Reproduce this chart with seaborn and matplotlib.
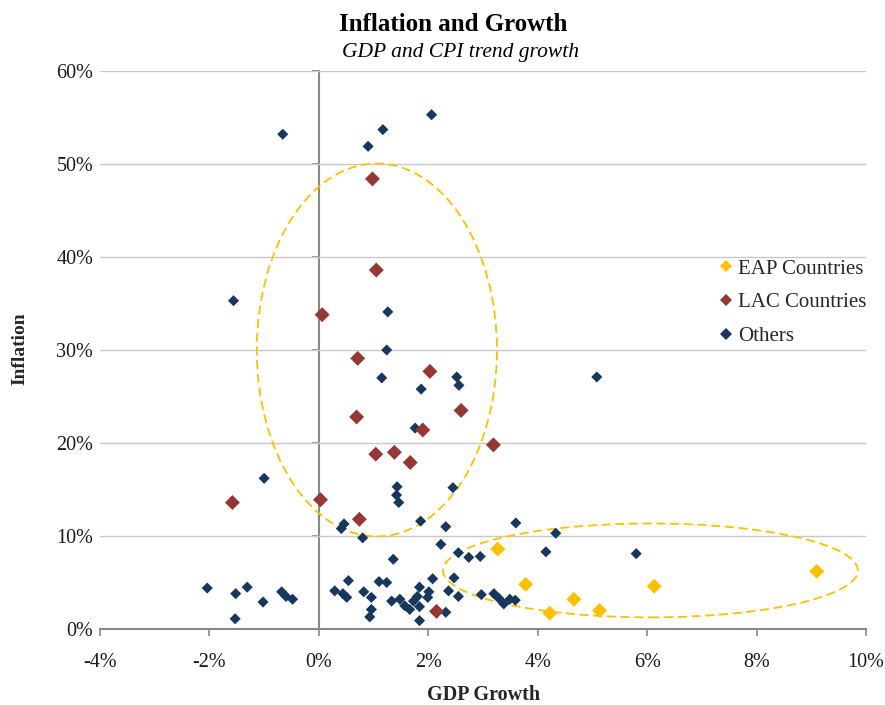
import matplotlib
matplotlib.use("Agg")
import matplotlib.pyplot as plt
from matplotlib.patches import Ellipse
from matplotlib.lines import Line2D
from matplotlib.ticker import StrMethodFormatter
import seaborn as sns
import pandas as pd

# GDP trend growth (%) and CPI trend inflation (%) by country group
others_gdp = [-0.66, 1.17, 2.06, 0.90,
              -1.56, 1.26, 1.24, 1.15, 2.52, 2.56, 1.87, 5.08, 1.76,
              -1.00, 1.43, 1.42, 1.46, 2.45,
              0.46, 0.41, 1.86, 2.32, 3.60, 4.33, 0.80, 2.23, 2.55, 2.74, 2.95, 4.15, 5.80, 1.36,
              -2.04, -1.52, -1.31, -1.02, -0.68, -0.60, -0.48, -1.53,
              0.29, 0.54, 0.44, 0.51, 0.82, 0.96, 0.96, 0.93, 1.10, 1.24, 1.33, 1.48, 1.57,
              1.66, 1.73, 1.80, 1.84, 1.84, 1.99, 2.01, 2.08, 1.84, 2.37, 2.47, 2.55, 2.32,
              2.97, 3.20, 3.29, 3.38, 3.49, 3.59]
others_cpi = [53.2, 53.7, 55.3, 51.9,
              35.3, 34.1, 30.0, 27.0, 27.1, 26.2, 25.8, 27.1, 21.6,
              16.2, 15.3, 14.4, 13.6, 15.2,
              11.3, 10.8, 11.6, 11.0, 11.4, 10.3, 9.8, 9.1, 8.2, 7.7, 7.8, 8.3, 8.1, 7.5,
              4.4, 3.8, 4.5, 2.9, 4.0, 3.5, 3.2, 1.1,
              4.1, 5.2, 3.8, 3.4, 4.0, 3.4, 2.1, 1.3, 5.1, 5.0, 3.0, 3.2, 2.5,
              2.1, 3.0, 3.5, 4.5, 2.4, 3.4, 4.0, 5.4, 0.9, 4.1, 5.5, 3.5, 1.8,
              3.7, 3.8, 3.3, 2.7, 3.2, 3.1]

lac_gdp = [0.98, 1.05, 0.06, 0.71, 2.03, 2.60, 0.69, 1.90, 3.19, 1.04, 1.38, 1.67,
           -1.58, 0.03, 0.74, 2.15]
lac_cpi = [48.4, 38.6, 33.8, 29.1, 27.7, 23.5, 22.8, 21.4, 19.8, 18.8, 19.0, 17.9,
           13.6, 13.9, 11.8, 1.9]

eap_gdp = [3.27, 3.78, 4.22, 4.66, 5.13, 6.13, 9.10]
eap_cpi = [8.6, 4.8, 1.7, 3.2, 2.0, 4.6, 6.2]

groups = ["EAP Countries", "LAC Countries", "Others"]
colors = {"EAP Countries": "#FFC000", "LAC Countries": "#953735", "Others": "#17375E"}
x_ticks = list(range(-4, 11, 2))
y_ticks = list(range(0, 61, 10))

df = pd.concat([
    pd.DataFrame({"gdp": others_gdp, "cpi": others_cpi, "group": "Others"}),
    pd.DataFrame({"gdp": lac_gdp, "cpi": lac_cpi, "group": "LAC Countries"}),
    pd.DataFrame({"gdp": eap_gdp, "cpi": eap_cpi, "group": "EAP Countries"}),
], ignore_index=True)

sns.set_theme(style="white")
plt.rcParams["font.family"] = ["Liberation Serif", "DejaVu Serif"]
plt.rcParams["axes.unicode_minus"] = False

fig = plt.figure(figsize=(8.85, 7.05), dpi=100)
ax = fig.add_axes([100 / 885, 1 - 629 / 705, 766 / 885, 558 / 705])

sns.scatterplot(data=df, x="gdp", y="cpi", hue="group", palette=colors,
                size="group", sizes={"Others": 32, "LAC Countries": 58, "EAP Countries": 58},
                marker="D", linewidth=0, legend=False, ax=ax, zorder=4)

# highlighted regions
ax.add_patch(Ellipse((1.06, 30.0), 4.39, 40.1, fill=False, edgecolor="#FFC000",
                     lw=1.3, linestyle=(0, (5, 2.6)), zorder=3))
ax.add_patch(Ellipse((6.06, 6.3), 7.58, 10.1, fill=False, edgecolor="#FFC000",
                     lw=1.3, linestyle=(0, (5, 2.6)), zorder=3))

ax.set_xlim(-4, 10)
ax.set_ylim(0, 60)
ax.set_xticks(x_ticks)
ax.set_yticks(y_ticks)
ax.xaxis.set_major_formatter(StrMethodFormatter("{x:.0f}%"))
ax.yaxis.set_major_formatter(StrMethodFormatter("{x:.0f}%"))

ax.grid(axis="y", color="#C8C8C8", lw=1.0)
ax.grid(axis="x", visible=False)
for side in ["top", "right", "left"]:
    ax.spines[side].set_visible(False)
ax.spines["bottom"].set_color("#888888")
ax.spines["bottom"].set_linewidth(1.5)
ax.spines["bottom"].set_zorder(5)
ax.tick_params(axis="x", bottom=True, length=5, width=1.2, color="#888888",
               pad=12, labelsize=14.5, labelcolor="#1a1a1a")
ax.tick_params(axis="y", left=False, length=0, pad=5, labelsize=14.5, labelcolor="#1a1a1a")

# vertical axis line crossing at 0% growth
yax0 = ax.secondary_yaxis(4 / 14)
yax0.spines["left"].set_color("#888888")
yax0.spines["left"].set_linewidth(1.5)
yax0.set_yticks(y_ticks)
yax0.tick_params(axis="y", length=5, width=1.2, color="#888888", labelleft=False)

ax.set_xlabel("GDP Growth", fontsize=14.5, fontweight="bold", va="center")
ax.xaxis.set_label_coords(0.501, -0.118)
ax.set_ylabel("Inflation", fontsize=14, fontweight="bold", va="center")
ax.yaxis.set_label_coords(-0.105, 0.502)

fig.text(453 / 885, 1 - 31 / 705, "Inflation and Growth", ha="center", va="baseline",
         fontsize=18, fontweight="bold", color="#000000")
fig.text(460 / 885, 1 - 57 / 705, "GDP and CPI trend growth", ha="center", va="baseline",
         fontsize=15.5, fontstyle="italic", color="#000000")

handles = [Line2D([], [], marker="D", linestyle="none", markersize=5.8,
                  markerfacecolor=colors[g], markeredgewidth=0, label=g) for g in groups]
ax.legend(handles=handles, loc="upper left", bbox_to_anchor=(719 / 885, 1 - 259 / 705),
          bbox_transform=fig.transFigure, frameon=False, fontsize=15,
          handlelength=0.7, handletextpad=0.21, labelspacing=0.68, borderaxespad=0,
          borderpad=0)

fig.savefig("out.png", dpi=100)
